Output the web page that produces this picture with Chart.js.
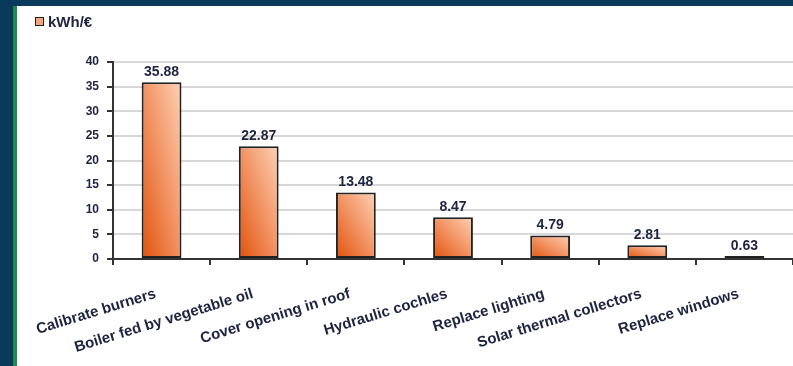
<!DOCTYPE html>
<html>
<head>
<meta charset="utf-8">
<script src="https://cdn.jsdelivr.net/npm/chart.js@4/dist/chart.umd.min.js"></script>
<style>
  body { margin: 0; background: #0a3a5b; width: 793px; height: 366px; overflow: hidden; position: relative;
         font-family: "Liberation Sans", Arial, sans-serif; }
  #stripe { position: absolute; left: 13px; top: 6px; width: 4px; height: 360px; background: #1f8a4c; }
  #panel { position: absolute; left: 17px; top: 6px; width: 776px; height: 360px; background: #fff; }
  #wrap { position: absolute; left: 1px; top: 0; width: 775px; height: 360px; }
  #legend { position: absolute; left: 18px; top: 6px; height: 18px; display: flex; align-items: center;
            font-size: 15px; font-weight: bold; color: #1d2440; z-index: 2; }
  #legend .box { width: 7px; height: 7px; border: 1.5px solid #222; background: #f4a478; margin-right: 4px; }
</style>
</head>
<body>
<div id="stripe"></div>
<div id="panel">
  <div id="legend"></div>
  <div id="wrap"><canvas id="barChart"></canvas></div>
</div>
<script>
// data
const measures = ['Calibrate burners', 'Boiler fed by vegetable oil', 'Cover opening in roof',
    'Hydraulic cochles', 'Replace lighting', 'Solar thermal collectors', 'Replace windows'];
const kwhPerEuro = [35.88, 22.87, 13.48, 8.47, 4.79, 2.81, 0.63];
const seriesName = 'kWh/€';

const textColor = '#1d2440';
const barShare = 0.41;

// legend as html
const legendEl = document.getElementById('legend');
const box = document.createElement('span');
box.className = 'box';
legendEl.appendChild(box);
legendEl.appendChild(document.createTextNode(seriesName));

// diagonal gradient: dark bottom-left -> light top-right of every bar
function barGradient(context) {
    const chart = context.chart;
    const x = chart.scales.x, y = chart.scales.y;
    if (!chart.chartArea || !x || !y) return '#f3a276';
    const i = context.dataIndex;
    const cx = x.getPixelForValue(i);
    const w = (x.width / measures.length) * barShare;
    const left = cx - w / 2;
    const base = y.getPixelForValue(0);
    const h = Math.max(1, base - y.getPixelForValue(kwhPerEuro[i]));
    const k = 2 * w * h / (h * h + w * w);
    const g = chart.ctx.createLinearGradient(left, base, left + h * k, base - w * k);
    g.addColorStop(0, '#e0520a');
    g.addColorStop(0.5, '#f29262');
    g.addColorStop(1, '#fcd2b4');
    return g;
}

const valueLabels = {
    id: 'valueLabels',
    afterDatasetsDraw(chart) {
        const ctx = chart.ctx;
        const meta = chart.getDatasetMeta(0);
        ctx.save();
        ctx.font = 'bold 14px "Liberation Sans", Arial, sans-serif';
        ctx.fillStyle = textColor;
        ctx.textAlign = 'center';
        ctx.textBaseline = 'bottom';
        meta.data.forEach(function(bar, i) {
            ctx.fillText(kwhPerEuro[i].toFixed(2), bar.x, bar.y - 3);
        });
        ctx.restore();
    }
};

const ctx = document.getElementById('barChart').getContext('2d');
new Chart(ctx, {
    type: 'bar',
    data: {
        labels: measures,
        datasets: [{
            label: seriesName,
            data: kwhPerEuro,
            backgroundColor: barGradient,
            borderColor: '#222',
            borderWidth: 2,
            borderSkipped: false,
            categoryPercentage: 1,
            barPercentage: barShare
        }]
    },
    options: {
        responsive: true,
        maintainAspectRatio: false,
        animation: false,
        layout: { padding: { left: 8, top: 56, right: 0, bottom: 0 } },
        plugins: {
            legend: { display: false },
            tooltip: { enabled: false }
        },
        scales: {
            x: {
                afterFit: function(scale) {
                    scale.height = 107;
                    scale.paddingLeft = 0;
                    scale.paddingRight = 0;
                },
                grid: { drawOnChartArea: false, tickLength: 6, tickColor: '#333', lineWidth: 2 },
                border: { color: '#333', width: 2 },
                ticks: {
                    minRotation: 17,
                    maxRotation: 17,
                    padding: 20,
                    labelOffset: -6,
                    color: textColor,
                    font: { family: '"Liberation Sans", Arial, sans-serif', size: 15, weight: 'bold' }
                }
            },
            y: {
                min: 0,
                max: 40,
                afterFit: function(scale) { scale.width = 87; },
                grid: { color: '#d8d8d8', lineWidth: 2, tickLength: 6, tickColor: '#333' },
                border: { color: '#333', width: 2 },
                ticks: {
                    stepSize: 5,
                    padding: 8,
                    color: textColor,
                    font: { family: '"Liberation Sans", Arial, sans-serif', size: 12, weight: 'bold' }
                }
            }
        }
    },
    plugins: [valueLabels]
});
</script>
</body>
</html>
